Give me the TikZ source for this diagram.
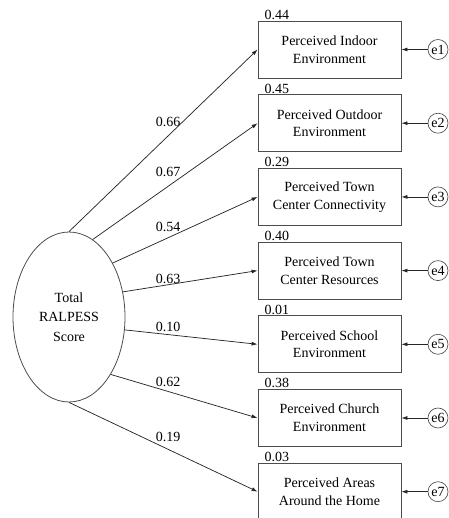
\documentclass[tikz,border=0pt]{standalone}
\usepackage{fontspec}
\setmainfont{Liberation Serif}
\usetikzlibrary{shapes.geometric,arrows.meta}

\begin{document}
\begin{tikzpicture}[x=0.75pt,y=-0.75pt,
   font=\fontsize{10.5}{13.3}\selectfont,
   obsbox/.style={draw=black!70,line width=0.6pt,minimum width=107.25pt,minimum height=42.75pt,align=center,inner sep=1pt},
   errnode/.style={draw=black!70,circle,line width=0.5pt,minimum size=15pt,inner sep=0pt},
   loading/.style={-{Latex[length=4.5pt,width=3pt]},line width=0.55pt,black!85}]
   \useasboundingbox (0,0) rectangle (449,518);

   \node[ellipse,draw=black!70,line width=0.6pt,minimum width=84pt,minimum height=127.5pt,
         align=center,font=\fontsize{10.5}{14.6}\selectfont] (total) at (69,317) {Total\\RALPESS\\Score};

   \foreach \id/\txt/\rsq/\coef/\ang/\ly in {
      1/{Perceived Indoor\\Environment}/0.44/0.66/90/122,
      2/{Perceived Outdoor\\Environment}/0.45/0.67/73/172,
      3/{Perceived Town\\Center Connectivity}/0.29/0.54/51.5/227,
      4/{Perceived Town\\Center Resources}/0.40/0.63/25/279,
      5/{Perceived School\\Environment}/0.01/0.10/347/327,
      6/{Perceived Church\\Environment}/0.38/0.62/306.5/382,
      7/{Perceived Areas\\Around the Home}/0.03/0.19/270/437} {
    \pgfmathsetmacro{\y}{49.5+(\id-1)*73.7}

    \node[obsbox] (b\id) at (329.5,\y) {\txt};
    \node[anchor=south west,inner sep=0.5pt,xshift=4.5pt] (r\id) at (b\id.north west) {\rsq};
    \node[errnode] (e\id) at (438,\y) {e\id};

    \draw[loading] (e\id) -- (b\id);
    \draw[loading] (total.\ang) -- (b\id.west);
    \node (c\id) at (168,\ly) {\coef};
   }
\end{tikzpicture}
\end{document}
